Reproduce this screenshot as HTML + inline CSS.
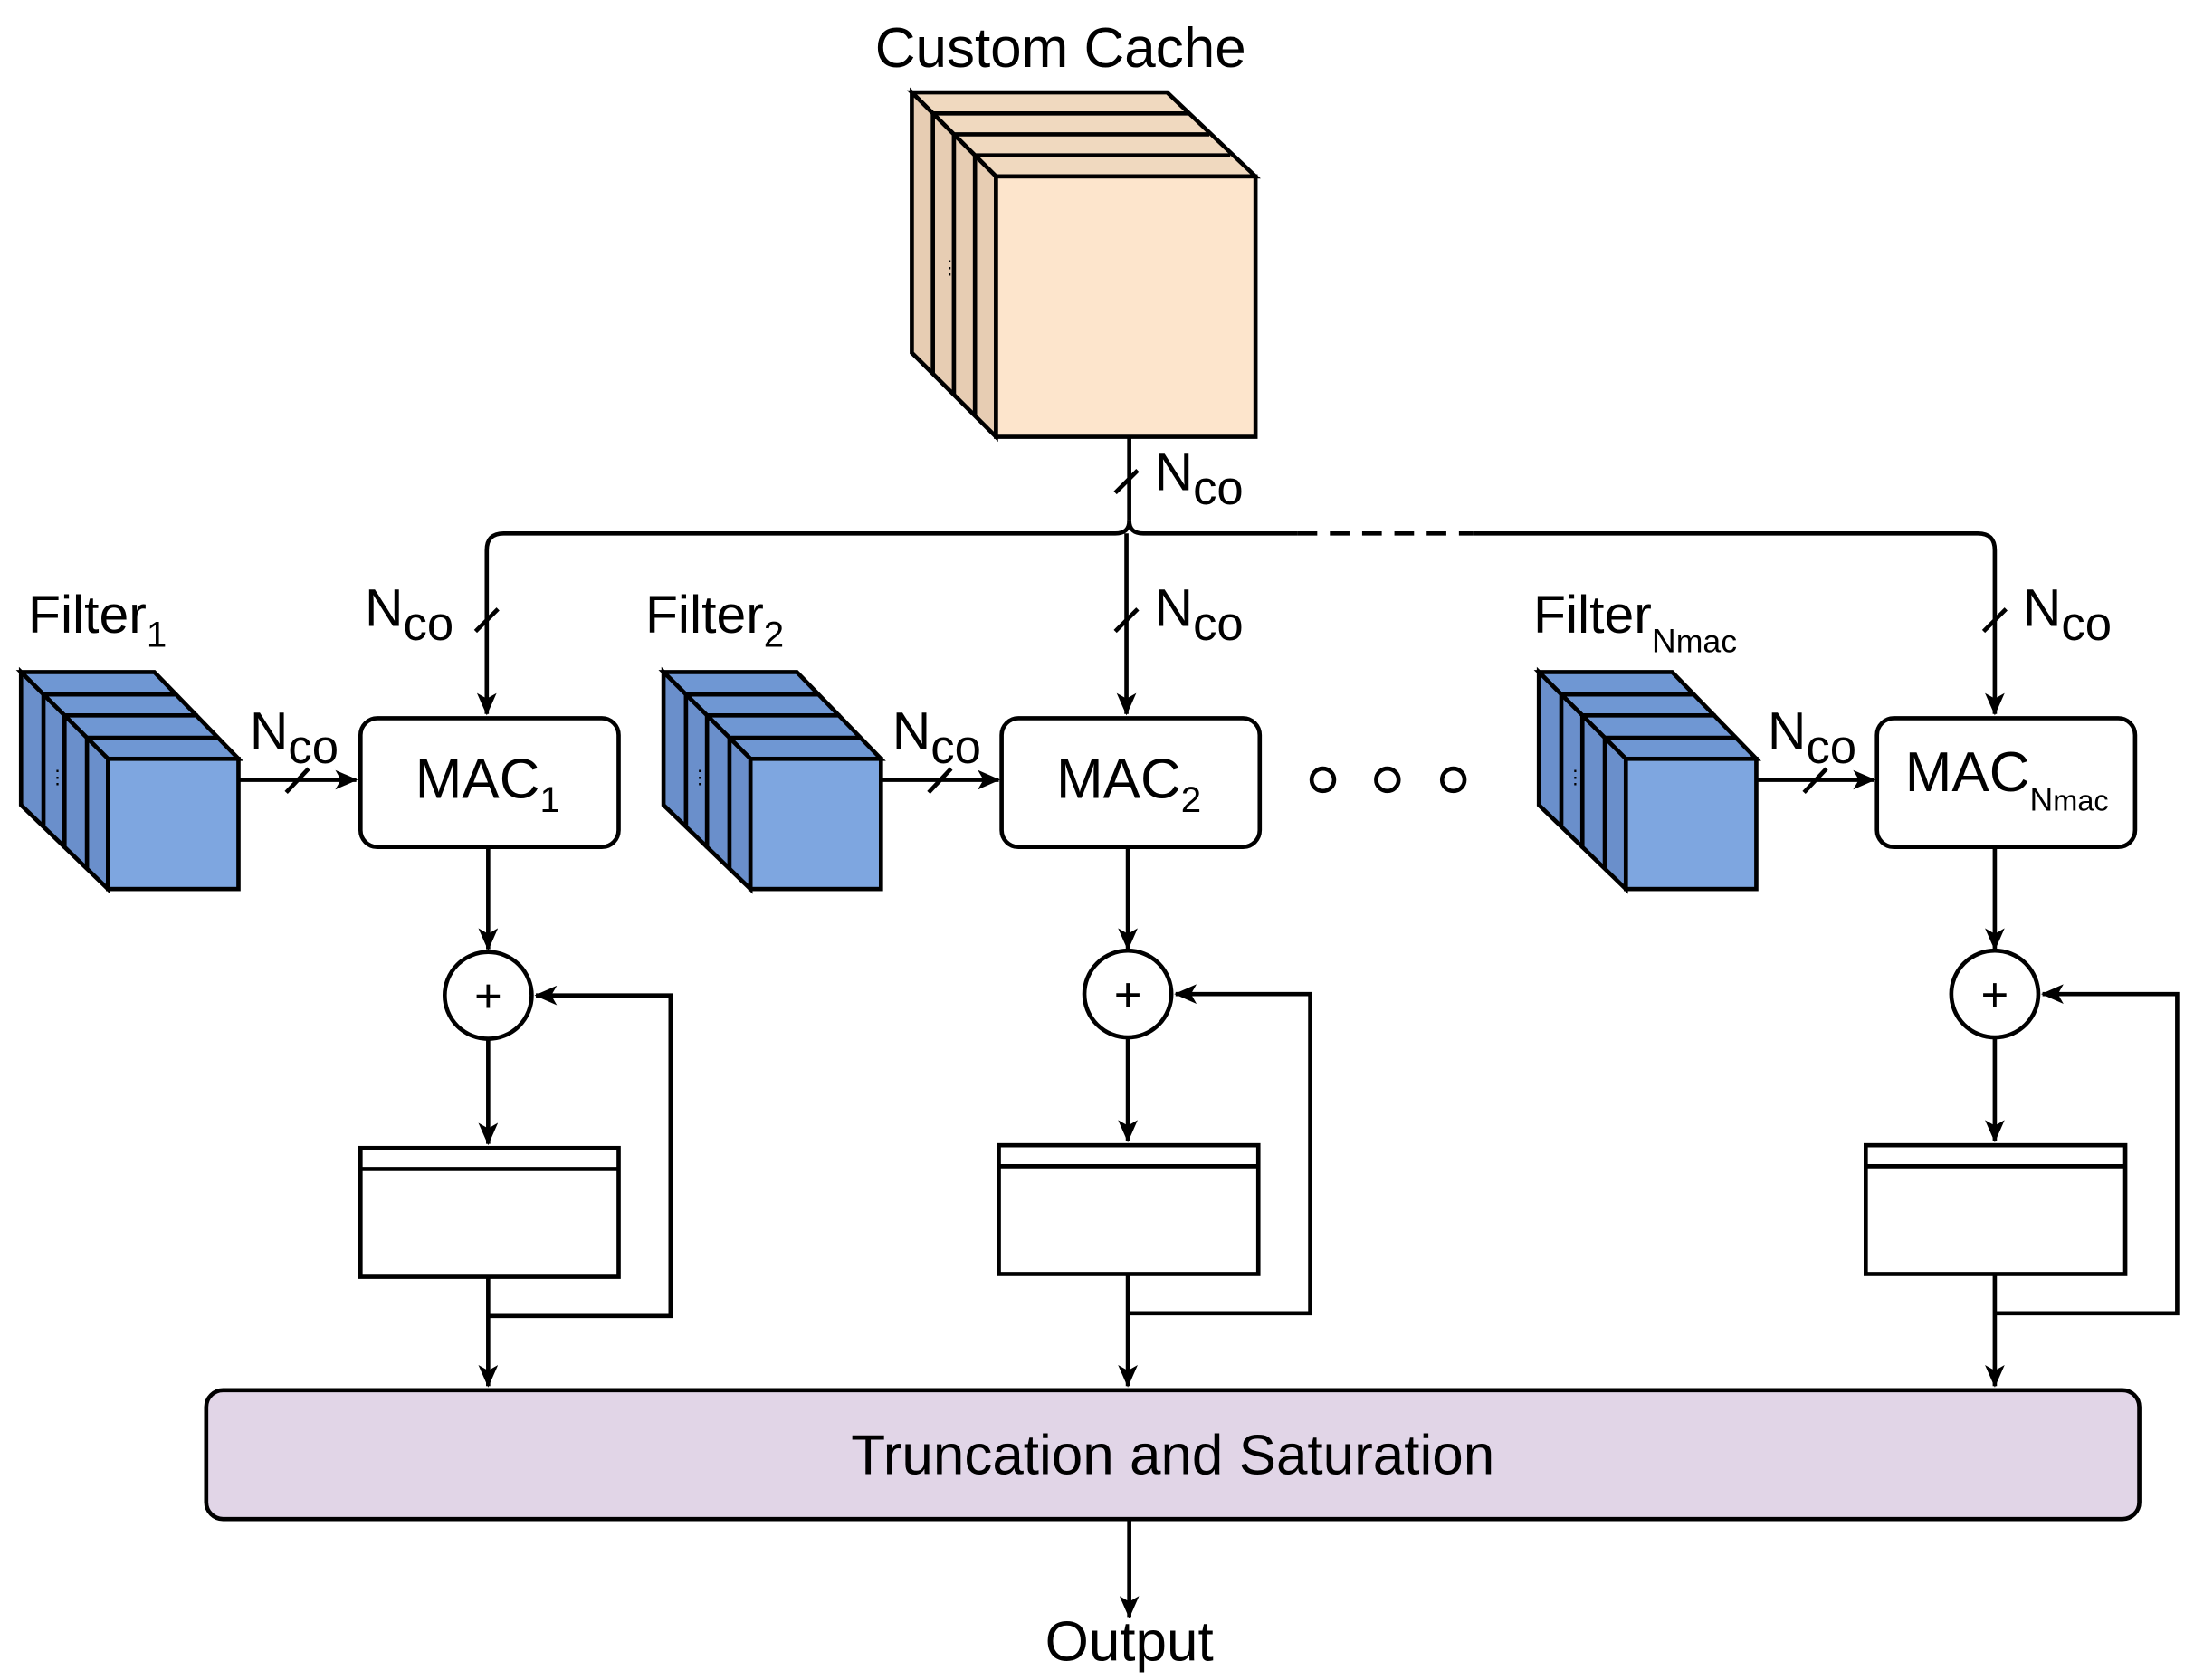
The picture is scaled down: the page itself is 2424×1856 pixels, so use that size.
<!DOCTYPE html>
<html><head><meta charset="utf-8"><style>html,body{margin:0;padding:0;background:#fff}svg{display:block}</style></head>
<body>
<svg width="2424" height="1856" viewBox="0 0 1564 1200" preserveAspectRatio="none" xmlns="http://www.w3.org/2000/svg" font-family="Liberation Sans, Arial, sans-serif">
<defs>
<marker id="b" markerWidth="16" markerHeight="14" refX="15" refY="7" orient="auto" markerUnits="userSpaceOnUse"><path d="M0,0 L16,7 L0,14 L4,7 z" fill="#000"/></marker>
</defs>
<g stroke="#000" stroke-width="3" fill="none">
<polygon points="650,66 832,66 895,126 710,126" fill="#f0d9bf"/>
<polygon points="650,66 710,126 710,312 650,252" fill="#e7cdb3"/>
<rect x="710" y="126" width="185" height="186" fill="#fde5cc"/>
<line x1="665" y1="81" x2="665" y2="267"/><line x1="680" y1="96" x2="680" y2="282"/><line x1="695" y1="111" x2="695" y2="297"/>
<line x1="665" y1="81" x2="847" y2="81"/><line x1="680" y1="96" x2="862" y2="96"/><line x1="695" y1="111" x2="877" y2="111"/>
</g>
<text x="670" y="196" font-size="14">⋮</text>
<text x="756" y="48" font-size="40" text-anchor="middle">Custom Cache</text>

<g stroke="#000" stroke-width="3" fill="none">
<path d="M805,312 L805,372"/>
<path d="M805,372 Q805,381 795,381 L359,381 Q347,381 347,393 L347,510" marker-end="url(#b)"/>
<path d="M805,372 Q805,381 815,381 L925,381"/>
<path d="M925,381 L1050,381" stroke-dasharray="14,9"/>
<path d="M1050,381 L1410,381 Q1422,381 1422,393 L1422,510" marker-end="url(#b)"/>
<path d="M803,381 L803,510" marker-end="url(#b)"/>
<line x1="795" y1="352" x2="811" y2="336"/>
<line x1="339" y1="451" x2="355" y2="435"/>
<line x1="795" y1="451" x2="811" y2="435"/>
<line x1="1414" y1="451" x2="1430" y2="435"/>
</g>
<g font-size="38">
<text x="823" y="350">N<tspan font-size="34" dy="10">co</tspan></text>
<text x="260" y="447">N<tspan font-size="34" dy="10">co</tspan></text>
<text x="823" y="447">N<tspan font-size="34" dy="10">co</tspan></text>
<text x="1442" y="447">N<tspan font-size="34" dy="10">co</tspan></text>
<text x="20" y="452">Filter<tspan font-size="26" dy="10">1</tspan></text>
<text x="460" y="452">Filter<tspan font-size="26" dy="10">2</tspan></text>
<text x="1093" y="452">Filter<tspan font-size="24" dy="14">N</tspan><tspan font-size="23">mac</tspan></text>
</g>

<g stroke="#000" stroke-width="3" fill="none">
<g>
<polygon points="15,480 110,480 170,542 77,542" fill="#6f97d3"/>
<polygon points="15,480 77,542 77,635 15,575" fill="#6a8fcb"/>
<rect x="77" y="542" width="93" height="93" fill="#7ea6e0"/>
<line x1="31" y1="496" x2="31" y2="591"/><line x1="46" y1="511" x2="46" y2="606"/><line x1="62" y1="527" x2="62" y2="620"/>
<line x1="31" y1="496" x2="126" y2="496"/><line x1="46" y1="511" x2="141" y2="511"/><line x1="62" y1="527" x2="156" y2="527"/>
<path d="M170,557 L254,557" marker-end="url(#b)"/>
<line x1="204" y1="566" x2="220" y2="549"/>
</g>
<rect x="257" y="513" width="184" height="92" rx="12" fill="#fff"/>
<path d="M348,605 L348,678" marker-end="url(#b)"/>
<circle cx="348" cy="711" r="31" fill="#fff"/>
<path d="M348,742 L348,817" marker-end="url(#b)"/>
<rect x="257" y="820" width="184" height="92"/>
<line x1="257" y1="835" x2="441" y2="835"/>
<path d="M348,912 L348,990" marker-end="url(#b)"/>
<path d="M348,940 L478,940 L478,711 L382,711" marker-end="url(#b)"/>

<g transform="translate(458,0)">
<polygon points="15,480 110,480 170,542 77,542" fill="#6f97d3"/>
<polygon points="15,480 77,542 77,635 15,575" fill="#6a8fcb"/>
<rect x="77" y="542" width="93" height="93" fill="#7ea6e0"/>
<line x1="31" y1="496" x2="31" y2="591"/><line x1="46" y1="511" x2="46" y2="606"/><line x1="62" y1="527" x2="62" y2="620"/>
<line x1="31" y1="496" x2="126" y2="496"/><line x1="46" y1="511" x2="141" y2="511"/><line x1="62" y1="527" x2="156" y2="527"/>
<path d="M170,557 L254,557" marker-end="url(#b)"/>
<line x1="204" y1="566" x2="220" y2="549"/>
</g>
<rect x="714" y="513" width="184" height="92" rx="12" fill="#fff"/>
<path d="M804,605 L804,678" marker-end="url(#b)"/>
<circle cx="804" cy="710" r="31" fill="#fff"/>
<path d="M804,741 L804,815" marker-end="url(#b)"/>
<rect x="712" y="818" width="185" height="92"/>
<line x1="712" y1="833" x2="897" y2="833"/>
<path d="M804,910 L804,990" marker-end="url(#b)"/>
<path d="M804,938 L934,938 L934,710 L838,710" marker-end="url(#b)"/>

<g transform="translate(1082,0)">
<polygon points="15,480 110,480 170,542 77,542" fill="#6f97d3"/>
<polygon points="15,480 77,542 77,635 15,575" fill="#6a8fcb"/>
<rect x="77" y="542" width="93" height="93" fill="#7ea6e0"/>
<line x1="31" y1="496" x2="31" y2="591"/><line x1="46" y1="511" x2="46" y2="606"/><line x1="62" y1="527" x2="62" y2="620"/>
<line x1="31" y1="496" x2="126" y2="496"/><line x1="46" y1="511" x2="141" y2="511"/><line x1="62" y1="527" x2="156" y2="527"/>
<path d="M170,557 L254,557" marker-end="url(#b)"/>
<line x1="204" y1="566" x2="220" y2="549"/>
</g>
<rect x="1338" y="513" width="184" height="92" rx="12" fill="#fff"/>
<path d="M1422,605 L1422,678" marker-end="url(#b)"/>
<circle cx="1422" cy="710" r="31" fill="#fff"/>
<path d="M1422,741 L1422,815" marker-end="url(#b)"/>
<rect x="1330" y="818" width="185" height="92"/>
<line x1="1330" y1="833" x2="1515" y2="833"/>
<path d="M1422,910 L1422,990" marker-end="url(#b)"/>
<path d="M1422,938 L1552,938 L1552,710 L1456,710" marker-end="url(#b)"/>

<circle cx="943" cy="557" r="8"/><circle cx="989" cy="557" r="8"/><circle cx="1036" cy="557" r="8"/>

<rect x="147" y="993" width="1378" height="92" rx="12" fill="#e1d5e7"/>
<path d="M805,1085 L805,1155" marker-end="url(#b)"/>
</g>
<text x="34" y="560" font-size="14">⋮</text>
<text x="492" y="560" font-size="14">⋮</text>
<text x="1116" y="560" font-size="14">⋮</text>
<text x="178" y="535" font-size="38">N<tspan font-size="34" dy="10">co</tspan></text>
<text x="636" y="535" font-size="38">N<tspan font-size="34" dy="10">co</tspan></text>
<text x="1260" y="535" font-size="38">N<tspan font-size="34" dy="10">co</tspan></text>
<text x="296" y="570" font-size="40">MAC<tspan font-size="26" dy="10">1</tspan></text>
<text x="753" y="570" font-size="40">MAC<tspan font-size="26" dy="10">2</tspan></text>
<text x="1358" y="565" font-size="40">MAC<tspan font-size="23" dy="14">N</tspan><tspan font-size="21">mac</tspan></text>
<text x="348" y="723" font-size="34" text-anchor="middle">+</text>
<text x="804" y="722" font-size="34" text-anchor="middle">+</text>
<text x="1422" y="722" font-size="34" text-anchor="middle">+</text>
<text x="836" y="1053" font-size="40" text-anchor="middle">Truncation and Saturation</text>
<text x="805" y="1186" font-size="40" text-anchor="middle">Output</text>
</svg>
</body></html>
